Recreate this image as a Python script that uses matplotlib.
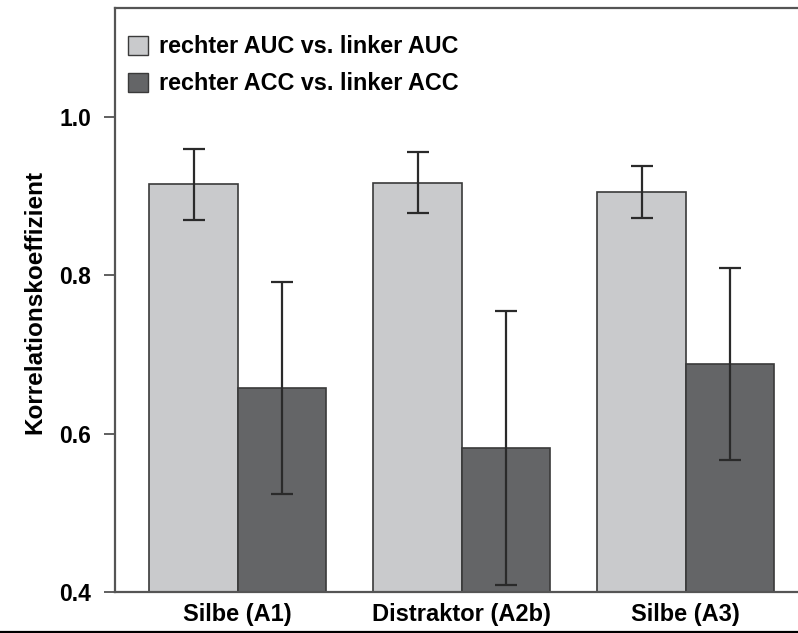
import matplotlib
matplotlib.use("Agg")
import matplotlib.pyplot as plt
import numpy as np
from matplotlib.patches import Patch
from matplotlib.lines import Line2D

plt.rcParams['font.family'] = ['Liberation Sans', 'DejaVu Sans']
plt.rcParams['font.weight'] = 'bold'

categories = ["Silbe (A1)", "Distraktor (A2b)", "Silbe (A3)"]
series_names = ["rechter AUC vs. linker AUC", "rechter ACC vs. linker ACC"]
auc_values = [0.915, 0.917, 0.905]
auc_err = [0.045, 0.039, 0.033]
acc_values = [0.658, 0.582, 0.688]
acc_err = [0.134, 0.173, 0.121]
yticks = [0.4, 0.6, 0.8, 1.0]

light = "#c9cacc"
dark = "#646567"
edge = "#3a3a3a"

fig = plt.figure(figsize=(7.98, 6.33), dpi=100)
ax = fig.add_axes([115/798, 1-592/633, 1-115/798, (592-8)/633])

x = np.arange(len(categories))
w = 0.395
ax.bar(x - w/2, auc_values, w, bottom=0, color=light, edgecolor=edge, linewidth=1.2, zorder=2)
ax.bar(x + w/2, acc_values, w, bottom=0, color=dark, edgecolor=edge, linewidth=1.2, zorder=2)
ax.errorbar(x - w/2, auc_values, yerr=auc_err, fmt='none', ecolor="#2a2a2a",
            elinewidth=1.6, capsize=8, capthick=1.6, zorder=3)
ax.errorbar(x + w/2, acc_values, yerr=acc_err, fmt='none', ecolor="#2a2a2a",
            elinewidth=1.6, capsize=8, capthick=1.6, zorder=3)

ax.set_ylim(0.4, 1.1375)
ax.set_xlim(-0.548, 2.501)
ax.set_yticks(yticks)
ax.set_yticklabels([f"{v:.1f}" for v in yticks], fontsize=16.5, fontweight='bold')
ax.set_xticks(x)
ax.set_xticklabels(categories, fontsize=17, fontweight='bold')
ax.tick_params(axis='x', length=0, pad=8)
ax.tick_params(axis='y', length=8, width=1.2, color="#444444", pad=9)

for s in ['left', 'top', 'bottom']:
    ax.spines[s].set_color("#555555")
    ax.spines[s].set_linewidth(1.6)
ax.spines['right'].set_visible(False)

ax.set_ylabel("Korrelationskoeffizient", fontsize=17.5, fontweight='bold')
ax.yaxis.set_label_coords(-0.10, 0.497)

handles = [Patch(facecolor=light, edgecolor=edge, linewidth=1.0),
           Patch(facecolor=dark, edgecolor=edge, linewidth=1.0)]
leg = ax.legend(handles, series_names, loc='upper left', frameon=False,
                prop={'size': 16.8, 'weight': 'bold'}, handlelength=0.85, handleheight=0.85,
                handletextpad=0.5, labelspacing=0.6, borderaxespad=0.15,
                bbox_to_anchor=(0.0, 0.975))

fig.add_artist(Line2D([0, 1], [1-631.5/633, 1-631.5/633], transform=fig.transFigure,
                      color="black", linewidth=1.6))

fig.savefig("out.png", dpi=100)
